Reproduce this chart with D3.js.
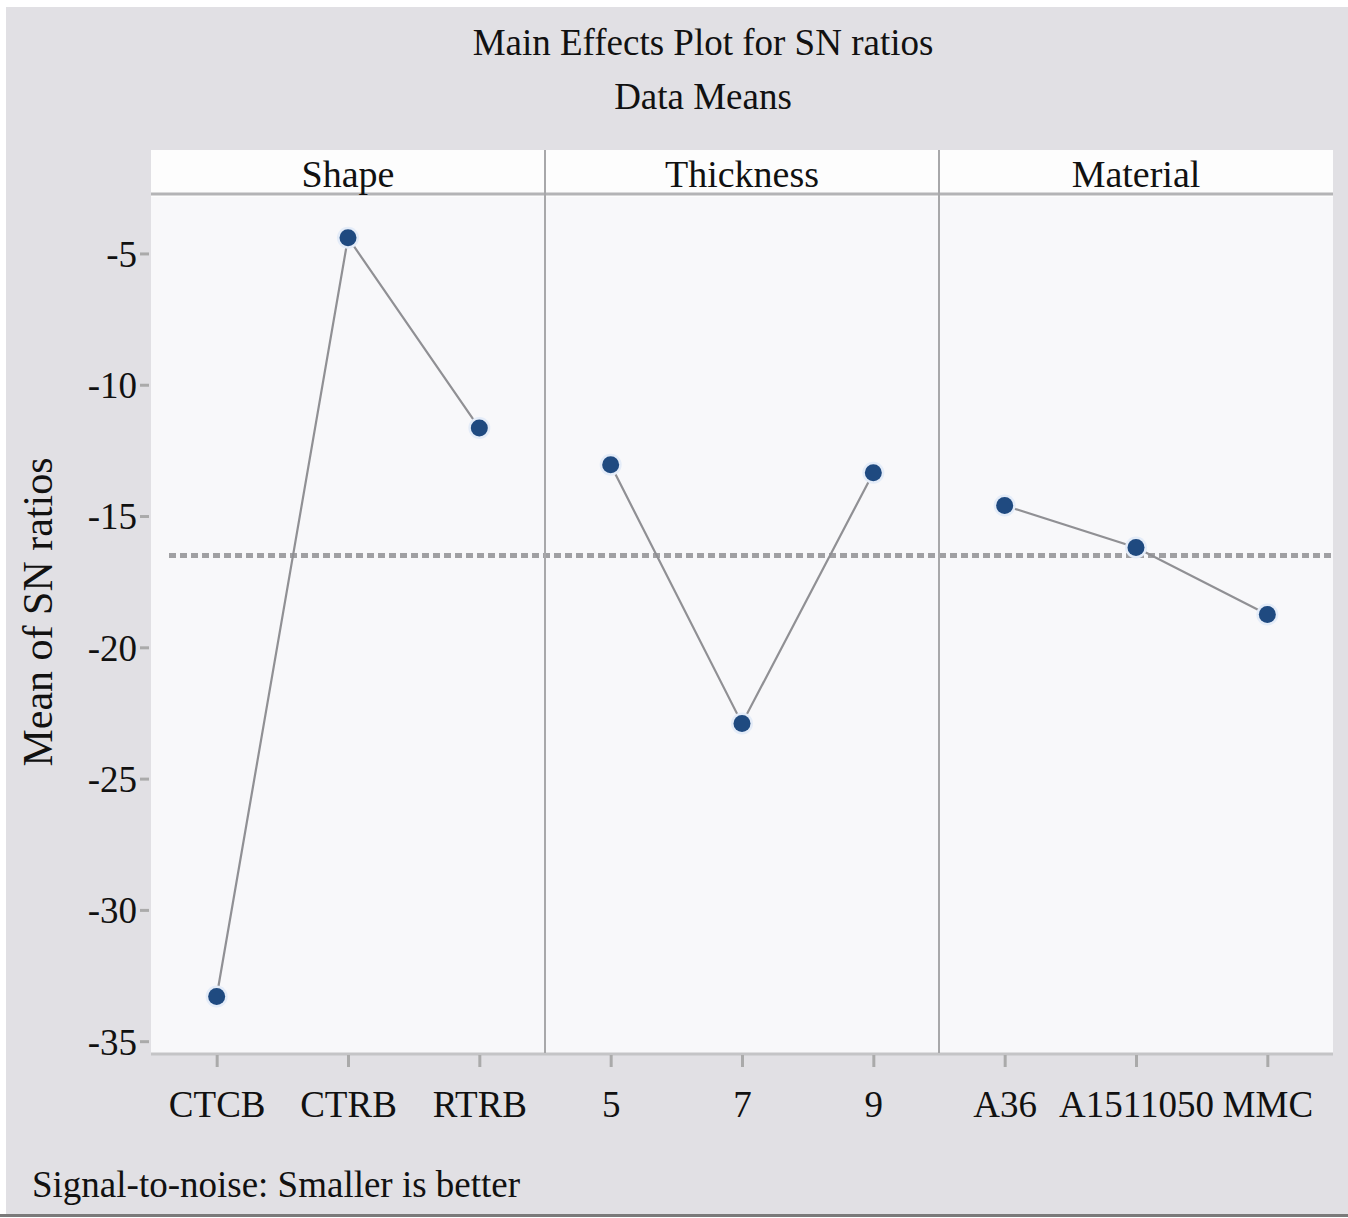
<!DOCTYPE html>
<html>
<head>
<meta charset="utf-8">
<script src="https://cdn.jsdelivr.net/npm/d3@7"></script>
<style>
  body { margin: 0; background: #ffffff; }
  text { font-family: "Liberation Serif", "DejaVu Serif", serif; fill: #111; }
</style>
</head>
<body>
<svg class="chart"></svg>
<script>
// factor levels per panel
const factors = ["Shape", "Thickness", "Material"];
const shapeLevels = ["CTCB", "CTRB", "RTRB"];
const thicknessLevels = ["5", "7", "9"];
const materialLevels = ["A36", "A1511050", "MMC"];

// mean SN ratios
const shapeMeans = [-33.3, -4.4, -11.65];
const thicknessMeans = [-13.05, -22.9, -13.35];
const materialMeans = [-14.6, -16.2, -18.75];

const overallMean = -16.5;
const yTicks = [-5, -10, -15, -20, -25, -30, -35];

const W = 1348, H = 1218;
const margin = {top: 197, right: 15, bottom: 165, left: 151};
const headerTop = 150;

const svg = d3.select(".chart").attr("width", W).attr("height", H);

svg.append("rect").attr("x", 6).attr("y", 7).attr("width", W - 6).attr("height", H - 11)
    .style("fill", "#e1e0e4");
svg.append("line").attr("x1", 0).attr("x2", W).attr("y1", 1215.5).attr("y2", 1215.5)
    .style("stroke", "#7a7a7a").style("stroke-width", 3);

const innerW = W - margin.left - margin.right;
const innerH = H - margin.top - margin.bottom;

const panelX = d3.scaleBand().domain(factors).range([margin.left, W - margin.right]);
const y = d3.scaleLinear().domain([-35.45, -2.85]).range([margin.top + innerH, margin.top]);

const label = (sel, x, yy, txt, size, anchor) => sel.append("text")
    .attr("x", x).attr("y", yy)
    .attr("text-anchor", anchor || "middle")
    .style("font-size", size + "px")
    .text(txt);

// titles
label(svg, 703, 55, "Main Effects Plot for SN ratios", 37);
label(svg, 703, 109, "Data Means", 37);

// plot background + header strip
svg.append("rect").attr("x", margin.left).attr("y", margin.top)
    .attr("width", innerW).attr("height", innerH).style("fill", "#f8f8fa");
svg.append("rect").attr("x", margin.left).attr("y", headerTop)
    .attr("width", innerW).attr("height", margin.top - headerTop).style("fill", "#fdfdfd");
svg.append("line").attr("x1", margin.left).attr("x2", margin.left + innerW)
    .attr("y1", margin.top - 3).attr("y2", margin.top - 3)
    .style("stroke", "#b4b4b6").style("stroke-width", 3);
svg.append("line").attr("x1", margin.left).attr("x2", margin.left + innerW)
    .attr("y1", margin.top + innerH + 1).attr("y2", margin.top + innerH + 1)
    .style("stroke", "#c4c4c6").style("stroke-width", 3);

// y axis
const yAxis = svg.append("g")
    .attr("transform", `translate(${margin.left - 2},0)`)
    .call(d3.axisLeft(y).tickValues(yTicks).tickFormat(d => String(d)).tickSize(9).tickPadding(3));
yAxis.select(".domain").remove();
yAxis.selectAll(".tick line").style("stroke", "#aaa").style("stroke-width", 3);
yAxis.selectAll(".tick text").style("font-size", "37px").attr("dy", "0.35em");

svg.append("text")
    .attr("transform", `translate(52,612) rotate(-90)`)
    .attr("text-anchor", "middle").style("font-size", "42px")
    .text("Mean of SN ratios");

// overall mean reference line
svg.append("line")
    .attr("x1", margin.left + 18).attr("x2", margin.left + innerW)
    .attr("y1", y(overallMean)).attr("y2", y(overallMean))
    .style("stroke", "#a0a0a3").style("stroke-width", 5).style("stroke-dasharray", "7,4");

const panels = [
    {name: "Shape", levels: shapeLevels, means: shapeMeans},
    {name: "Thickness", levels: thicknessLevels, means: thicknessMeans},
    {name: "Material", levels: materialLevels, means: materialMeans}
];

panels.forEach((p, i) => {
    const x0 = panelX(p.name);
    const x = d3.scalePoint().domain(p.levels).range([x0, x0 + panelX.bandwidth()]).padding(0.5);
    const g = svg.append("g");

    if (i > 0) {
        g.append("line").attr("x1", x0).attr("x2", x0)
            .attr("y1", headerTop).attr("y2", margin.top + innerH)
            .style("stroke", "#a8a8aa").style("stroke-width", 2);
    }

    label(g, x0 + panelX.bandwidth() / 2, 187, p.name, 38);

    const xAxis = g.append("g")
        .attr("transform", `translate(0,${margin.top + innerH + 2})`)
        .call(d3.axisBottom(x).tickSize(12).tickPadding(24));
    xAxis.select(".domain").remove();
    xAxis.selectAll(".tick line").style("stroke", "#aaa").style("stroke-width", 3);
    xAxis.selectAll(".tick text").style("font-size", "37px");

    const pts = p.levels.map((l, j) => ({level: l, value: p.means[j]}));

    g.append("path").datum(pts)
        .attr("d", d3.line().x(d => x(d.level)).y(d => y(d.value)))
        .style("fill", "none").style("stroke", "#909094").style("stroke-width", 2.2);

    g.selectAll(".halo").data(pts).enter().append("circle")
        .attr("cx", d => x(d.level)).attr("cy", d => y(d.value)).attr("r", 11)
        .style("fill", "#e4ecf8");
    g.selectAll(".pt").data(pts).enter().append("circle")
        .attr("cx", d => x(d.level)).attr("cy", d => y(d.value)).attr("r", 8.5)
        .style("fill", "#1f4a80");
});

// footnote
label(svg, 32, 1197, "Signal-to-noise: Smaller is better", 37, "start");
</script>
</body>
</html>
